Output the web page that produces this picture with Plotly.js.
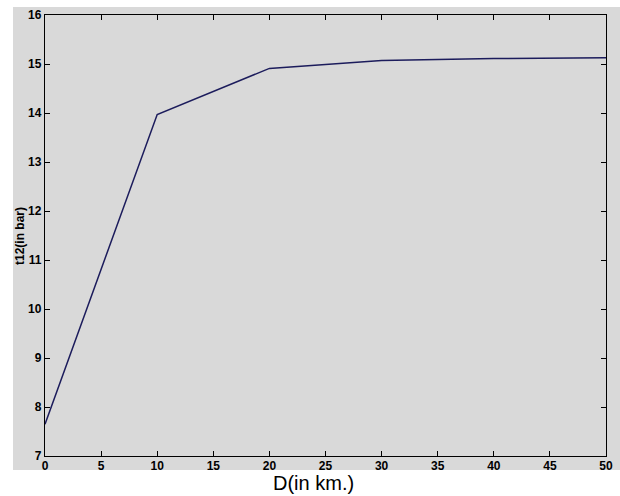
<!DOCTYPE html>
<html>
<head>
<meta charset="utf-8">
<script src="https://cdn.plot.ly/plotly-3.0.1.min.js"></script>
<style>html,body{margin:0;padding:0;background:#fff;}#chart{width:620px;height:496px;}</style>
</head>
<body>
<div id="chart"></div>
<script>
const distanceKm = [0, 10, 20, 30, 40, 50];
const t12Bar = [7.65, 13.97, 14.91, 15.07, 15.11, 15.13];
const xTicks = [0, 5, 10, 15, 20, 25, 30, 35, 40, 45, 50];
const yTicks = [7, 8, 9, 10, 11, 12, 13, 14, 15, 16];
const xTitle = 'D(in km.)';
const yTitle = 't12(in bar)';

const tickFont = {family: 'Liberation Sans, Arial, sans-serif', size: 12, color: '#000', weight: 'bold'};

const trace = {
  x: distanceKm, y: t12Bar, type: 'scatter', mode: 'lines',
  line: {color: '#1c1c5c', width: 1.5}, hoverinfo: 'skip'
};

const layout = {
  width: 620, height: 496,
  margin: {l: 45, r: 14, t: 15, b: 40, pad: 0},
  paper_bgcolor: '#ffffff',
  plot_bgcolor: 'rgba(0,0,0,0)',
  showlegend: false,
  shapes: [{
    type: 'rect', xref: 'paper', yref: 'paper', layer: 'below',
    x0: -0.057, x1: 1.03, y0: -0.032, y1: 1.018,
    fillcolor: '#d9d9d9', line: {width: 0}
  }],
  annotations: [
    {
      text: xTitle, xref: 'paper', yref: 'paper', x: 0.4795, y: -0.0895,
      xanchor: 'center', yanchor: 'bottom', showarrow: false, borderpad: 0,
      font: {family: 'Liberation Sans, Arial, sans-serif', size: 20, color: '#000'}
    },
    {
      text: yTitle, xref: 'paper', yref: 'paper', x: -0.0455, y: 0.5,
      xanchor: 'center', yanchor: 'middle', textangle: -90, showarrow: false,
      font: {family: 'Liberation Sans, Arial, sans-serif', size: 12, color: '#000', weight: 'bold'}
    }
  ],
  xaxis: {
    range: [0, 50], tickvals: xTicks, ticktext: xTicks.map(String),
    ticks: 'inside', ticklen: 5, tickwidth: 1, tickcolor: '#000',
    ticklabelstandoff: -2,
    showline: true, linecolor: '#000', linewidth: 1.2, mirror: 'ticks',
    showgrid: false, zeroline: false, tickfont: tickFont
  },
  yaxis: {
    range: [7, 16], tickvals: yTicks, ticktext: yTicks.map(String),
    ticks: 'inside', ticklen: 5, tickwidth: 1, tickcolor: '#000',
    showline: true, linecolor: '#000', linewidth: 1.2, mirror: 'ticks',
    showgrid: false, zeroline: false, tickfont: tickFont
  }
};

Plotly.newPlot('chart', [trace], layout, {displayModeBar: false, staticPlot: true});
</script>
</body>
</html>
